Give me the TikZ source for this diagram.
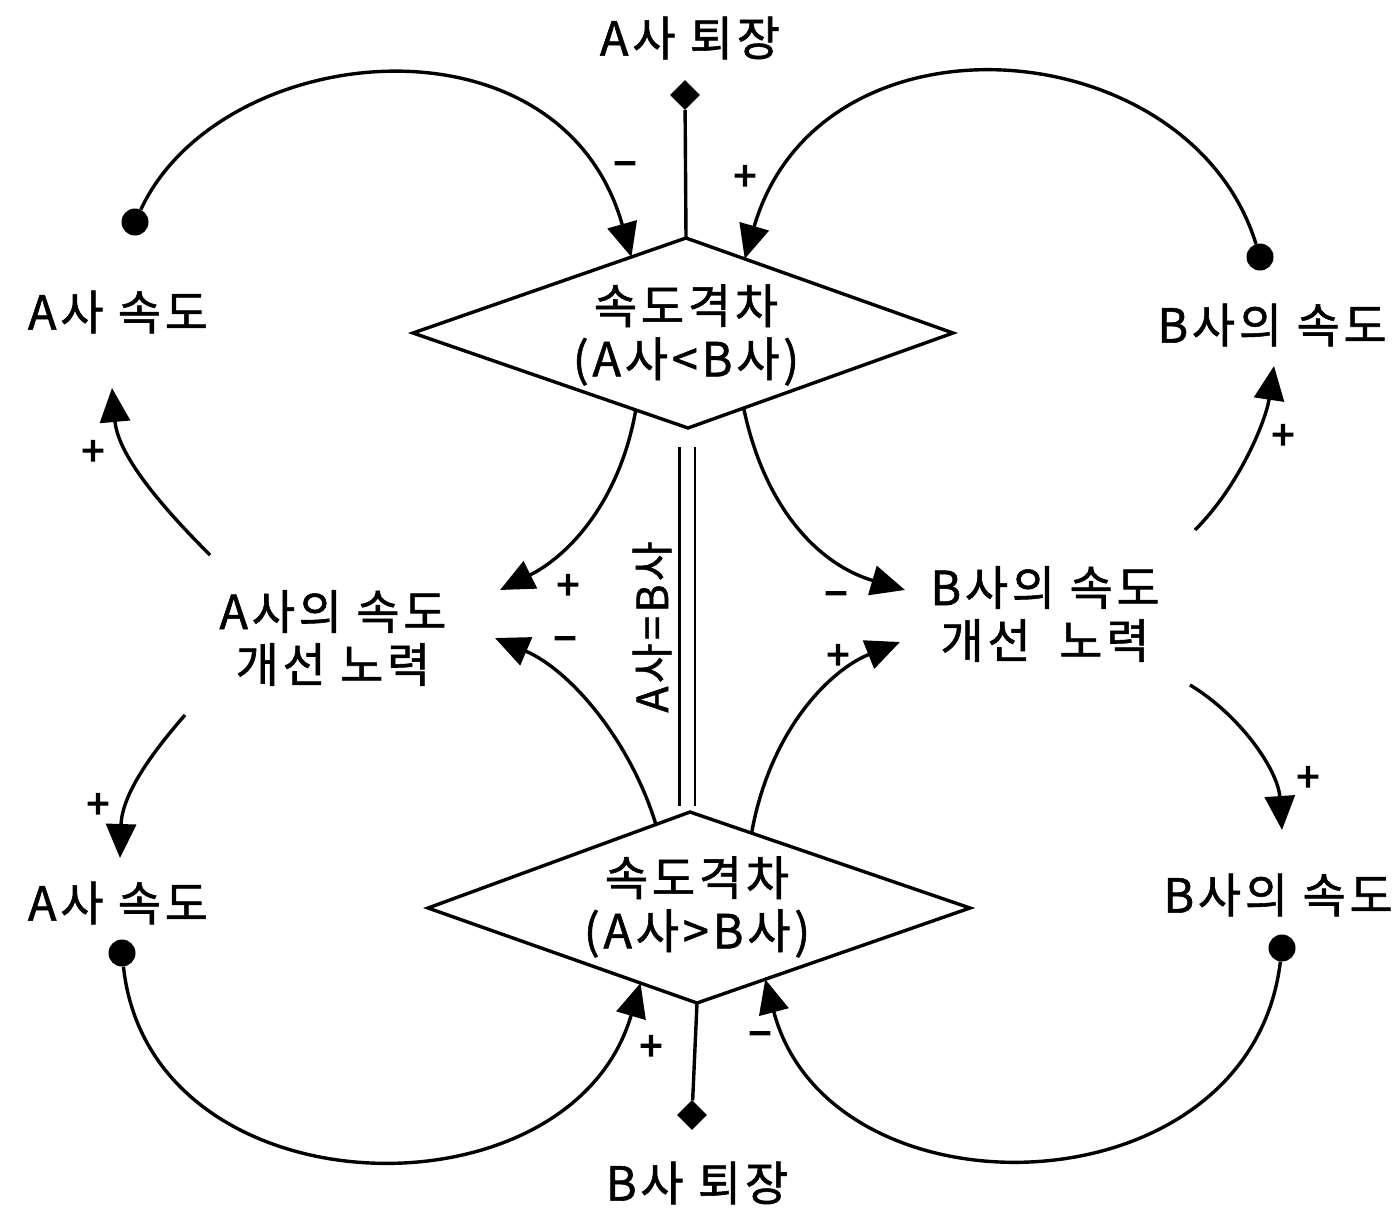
\documentclass[tikz,border=0pt]{standalone}
\usepackage{fontspec}
\setmainfont{Noto Sans CJK KR}
\newfontfamily\krfont{Noto Sans CJK KR}[FakeBold=1.2,LetterSpace=8]
\newfontfamily\sgnfont{Noto Sans CJK KR}[FakeBold=3.5]
\usetikzlibrary{arrows.meta,shapes.geometric,calc}
\begin{document}
\begin{tikzpicture}[x=1pt,y=-1pt,
  lbl/.style={font=\krfont\fontsize{47}{53}\selectfont, align=center, inner sep=0},
  sgn/.style={font=\sgnfont\fontsize{40}{40}\selectfont, inner sep=0},
  lnk/.style={line width=3.4pt, -{Triangle[length=34pt,width=30pt]}},
  plain/.style={line width=3.4pt},
  dotm/.style={circle, fill, inner sep=0, minimum size=27pt},
  dmdm/.style={diamond, fill, inner sep=0, minimum size=30pt},
  boxline/.style={line width=3.4pt, line join=miter}]
\useasboundingbox (0,0) rectangle (1395,1216);

% decision diamonds
\coordinate (T1) at (686,238);
\coordinate (L1) at (413,333);
\coordinate (R1) at (953,333);
\coordinate (B1) at (688,428);
\draw[boxline] (T1) -- (R1) -- (B1) -- (L1) -- cycle;
\node[lbl] (gapAB) at (686,335) {속도격차\\(A사<B사)};

\coordinate (T2) at (690,812);
\coordinate (L2) at (428,908);
\coordinate (R2) at (970,908);
\coordinate (B2) at (697,1003);
\draw[boxline] (T2) -- (R2) -- (B2) -- (L2) -- cycle;
\node[lbl] (gapBA) at (697,907) {속도격차\\(A사>B사)};

% labels
\node[lbl] (aexit) at (690,38) {A사 퇴장};
\node[lbl] (bexit) at (697,1183) {B사 퇴장};
\node[lbl] (aspd1) at (118,312) {A사 속도};
\node[lbl] (bspd1) at (1272,325) {B사의 속도};
\node[lbl] (aeff) at (333,638) {A사의 속도\\개선 노력};
\node[lbl] (beff) at (1045,614) {B사의 속도\\개선\ \ 노력};
\node[lbl] (aspd2) at (118,903) {A사 속도};
\node[lbl] (bspd2) at (1278,895) {B사의 속도};

% exit markers
\node[dmdm] (m1) at (685,95) {};
\node[dmdm] (m2) at (692,1115) {};
\draw[plain] (m1) -- (T1);
\draw[plain] (B2) -- (m2);

% equality double line
\coordinate (e1) at (687,447);
\coordinate (e2) at (687,806);
\draw[line width=2.8pt, double distance=13pt] (e1) -- (e2);
\node[font=\krfont\fontsize{43}{43}\selectfont, inner sep=0, rotate=90] (eq) at (652,627) {A사=B사};

% dots
\node[dotm] (d1) at (135,222) {};
\node[dotm] (d2) at (1260,257) {};
\node[dotm] (d3) at (122,953) {};
\node[dotm] (d4) at (1282,948) {};

% tips / starts on diamonds
\coordinate (t1) at ($(L1)!0.80!(T1)$);
\coordinate (t2) at ($(T1)!0.22!(R1)$);
\coordinate (s5) at ($(L1)!0.81!(B1)$);
\coordinate (s6) at ($(B1)!0.21!(R1)$);
\coordinate (s7) at ($(L2)!0.87!(T2)$);
\coordinate (s8) at ($(T2)!0.22!(R2)$);
\coordinate (t11) at ($(L2)!0.79!(B2)$);
\coordinate (t12) at ($(B2)!0.25!(R2)$);

% outer loops
\draw[lnk] (d1) .. controls (220,40) and (560,5) .. (t1);
\draw[lnk] (d2) .. controls (1190,30) and (820,0) .. (t2);
\draw[lnk] (d3) .. controls (150,1215) and (570,1225) .. (t11);
\draw[lnk] (d4) .. controls (1250,1215) and (830,1225) .. (t12);

% effort -> speed
\coordinate (s3) at (210,555);
\coordinate (t3) at (112,388);
\draw[lnk] (s3) .. controls (160,505) and (118,455) .. (t3);
\coordinate (s4) at (1195,530);
\coordinate (t4) at (1274,366);
\draw[lnk] (s4) .. controls (1240,485) and (1266,420) .. (t4);
\coordinate (s9) at (185,715);
\coordinate (t9) at (120,858);
\draw[lnk] (s9) .. controls (150,755) and (122,795) .. (t9);
\coordinate (s10) at (1190,685);
\coordinate (t10) at (1282,830);
\draw[lnk] (s10) .. controls (1240,715) and (1278,770) .. (t10);

% diamonds -> efforts
\coordinate (t5) at (500,590);
\draw[lnk] (s5) .. controls (620,500) and (570,555) .. (t5);
\coordinate (t6) at (905,590);
\draw[lnk] (s6) .. controls (765,510) and (820,565) .. (t6);
\coordinate (t7) at (495,638);
\draw[lnk] (s7) .. controls (630,740) and (570,670) .. (t7);
\coordinate (t8) at (900,642);
\draw[lnk] (s8) .. controls (770,730) and (830,670) .. (t8);

% signs
\node[sgn] at (625,170) {−};
\node[sgn] at (745,178) {+};
\node[sgn] at (93,453) {+};
\node[sgn] at (1283,437) {+};
\node[sgn] at (568,587) {+};
\node[sgn] at (565,645) {−};
\node[sgn] at (836,600) {−};
\node[sgn] at (838,657) {+};
\node[sgn] at (98,806) {+};
\node[sgn] at (1308,779) {+};
\node[sgn] at (651,1048) {+};
\node[sgn] at (760,1040) {−};
\end{tikzpicture}
\end{document}
